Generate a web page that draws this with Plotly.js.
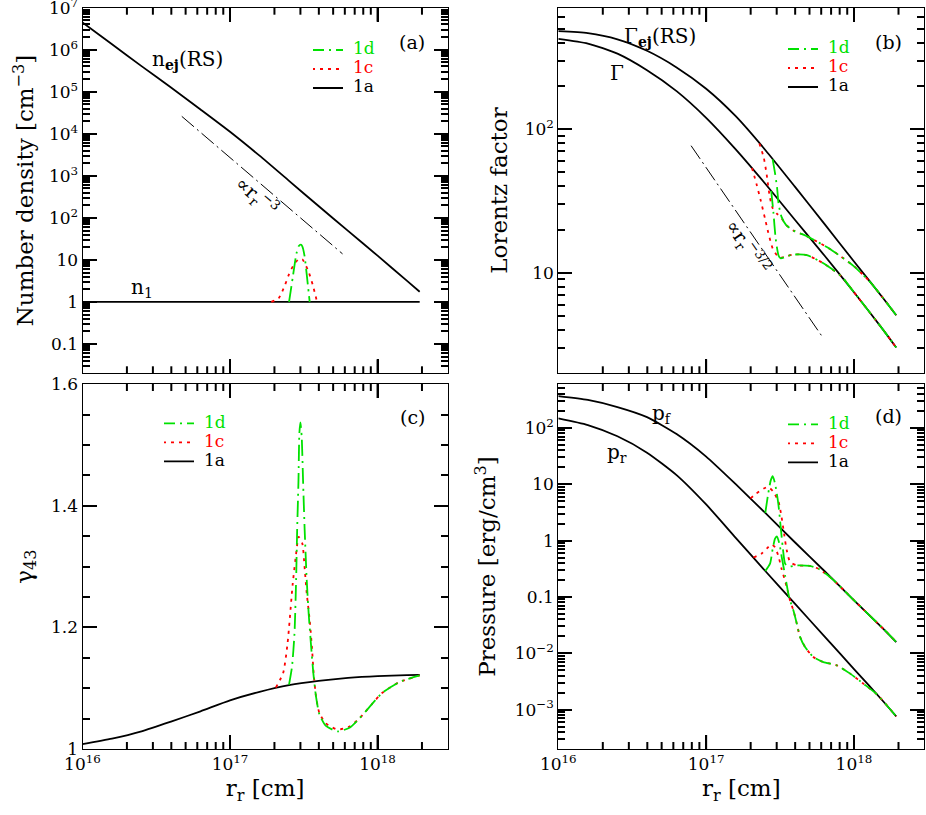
<!DOCTYPE html>
<html><head><meta charset="utf-8">
<script src="https://cdn.plot.ly/plotly-3.0.1.min.js"></script>
<style>html,body{margin:0;padding:0;background:#fff}</style>
</head><body><div id="chart" style="width:926px;height:815px"></div>
<script>
// ---------------- DATA ----------------
const rGrid = [1e16, 1.585e16, 2.512e16, 3.981e16, 6.310e16, 1e17, 1.585e17, 2.512e17, 3.981e17, 6.310e17, 1e18, 1.585e18, 1.93e18];
const nEjRS = [4.47e6, 1.35e6, 4.07e5, 1.26e5, 3.80e4, 1.12e4, 3020, 759, 191, 49.0, 12.6, 3.16, 1.74];
const rN1 = [1e16, 1.93e18];
const n1 = [1, 1];
const rN1c = [1.905e17, 2.138e17, 2.344e17, 2.512e17, 2.754e17, 2.951e17, 3.090e17, 3.388e17, 3.631e17, 3.890e17];
const nN1c = [1, 1.23, 2.40, 4.57, 8.5, 10.5, 10.3, 5.5, 2.6, 1];
const rN1d = [2.512e17, 2.661e17, 2.818e17, 2.917e17, 3.020e17, 3.090e17, 3.199e17, 3.311e17, 3.467e17];
const nN1d = [1, 3.8, 14.0, 21.0, 23.0, 21.0, 12.5, 4.5, 1];
const rSlopeA = [4.71e16, 5.79e17];
const nSlopeA = [2.6e4, 13.9];

const gammaEjRS = [481, 466, 422, 351, 269, 191, 123, 71.6, 39.8, 21.9, 12.0, 6.61, 5.07];
const gammaSh = [425, 394, 335, 257, 184, 120, 72.4, 41.7, 23.4, 13.2, 7.33, 3.98, 3.02];
const rSlopeB = [7.91e16, 6.21e17];
const gSlopeB = [76.7, 3.50];
const rGej1c = [2.291e17, 2.455e17, 2.570e17, 2.692e17, 2.818e17, 3.020e17, 3.236e17, 3.467e17, 3.890e17, 4.786e17, 6.918e17, 1e18, 1.288e18, 1.585e18, 1.93e18];
const gEj1c = [79.4, 63.1, 47.9, 33.9, 28.2, 25.7, 24.0, 21.6, 19.7, 18.0, 14.6, 11.1, 8.61, 6.61, 5.07];
const rGej1d = [2.818e17, 2.917e17, 3.020e17, 3.090e17, 3.236e17, 3.467e17, 3.890e17, 4.786e17, 6.918e17, 1e18, 1.288e18, 1.585e18, 1.93e18];
const gEj1d = [61.7, 50.1, 38.9, 30.2, 24.5, 21.6, 19.7, 18.0, 14.6, 11.1, 8.61, 6.61, 5.07];
const rG1c = [2.042e17, 2.188e17, 2.344e17, 2.512e17, 2.630e17, 2.818e17, 3.020e17, 3.162e17, 3.467e17, 3.890e17, 4.786e17, 6.166e17, 8.128e17, 1e18, 1.585e18, 1.93e18];
const g1c = [53.7, 41.7, 31.6, 23.4, 19.1, 14.8, 13.2, 12.7, 13.0, 13.4, 13.3, 11.7, 9.55, 7.33, 3.98, 3.02];
const rG1d = [2.754e17, 2.851e17, 2.951e17, 3.090e17, 3.199e17, 3.467e17, 3.890e17, 4.786e17, 6.166e17, 8.128e17, 1e18, 1.585e18, 1.93e18];
const g1d = [37.2, 26.3, 17.4, 13.2, 12.6, 13.0, 13.4, 13.3, 11.7, 9.55, 7.33, 3.98, 3.02];

const gamma43 = [1.008, 1.017, 1.029, 1.045, 1.062, 1.080, 1.094, 1.105, 1.112, 1.117, 1.120, 1.1215, 1.122];
const rGam1c = [2.042e17, 2.291e17, 2.455e17, 2.661e17, 2.818e17, 2.917e17, 3.090e17, 3.199e17, 3.311e17, 3.467e17, 3.589e17, 3.690e17, 3.828e17, 4.036e17, 4.467e17, 5.370e17, 6.457e17, 7.516e17, 8.318e17, 9.247e17, 1.072e18, 1.403e18, 1.93e18];
const gam1c = [1.101, 1.125, 1.174, 1.272, 1.325, 1.349, 1.338, 1.30, 1.256, 1.212, 1.168, 1.124, 1.086, 1.059, 1.042, 1.032, 1.037, 1.050, 1.062, 1.075, 1.092, 1.110, 1.121];
const rGam1d = [2.512e17, 2.630e17, 2.735e17, 2.805e17, 2.851e17, 2.911e17, 2.951e17, 2.999e17, 3.062e17, 3.126e17, 3.206e17, 3.311e17, 3.412e17, 3.548e17, 3.673e17, 3.828e17, 4.036e17, 4.467e17, 5.370e17, 6.457e17, 7.516e17, 8.318e17, 9.247e17, 1.072e18, 1.403e18, 1.93e18];
const gam1d = [1.106, 1.135, 1.19, 1.278, 1.36, 1.442, 1.519, 1.537, 1.513, 1.442, 1.36, 1.278, 1.223, 1.168, 1.124, 1.086, 1.057, 1.038, 1.029, 1.035, 1.050, 1.062, 1.075, 1.092, 1.110, 1.121];

const pF = [366, 313, 234, 155, 77.6, 30.9, 10.0, 3.09, 0.933, 0.288, 0.0871, 0.0269, 0.0158];
const pR = [147, 112, 70.8, 36.3, 14.5, 4.37, 1.12, 0.288, 0.0759, 0.0200, 0.00525, 0.00138, 0.000759];
const rPf1c = [1.995e17, 2.188e17, 2.455e17, 2.630e17, 2.851e17, 3.090e17, 3.236e17, 3.365e17, 3.508e17, 3.698e17, 4.102e17, 5.012e17, 5.754e17, 6.457e17, 7.244e17, 8.913e17, 1e18, 1.585e18, 1.93e18];
const pf1c = [5.6, 6.84, 8.39, 8.95, 7.29, 4.85, 2.63, 1.33, 0.673, 0.417, 0.363, 0.355, 0.316, 0.257, 0.200, 0.1175, 0.0871, 0.0269, 0.0158];
const rPf1d = [2.512e17, 2.630e17, 2.735e17, 2.818e17, 2.924e17, 3.076e17, 3.192e17, 3.296e17, 3.420e17, 3.597e17, 4.102e17, 5.012e17, 5.754e17, 6.457e17, 7.244e17, 8.913e17, 1e18, 1.585e18, 1.93e18];
const pf1d = [3.09, 6.84, 11.7, 13.9, 10.3, 4.54, 1.75, 0.769, 0.389, 0.347, 0.363, 0.355, 0.316, 0.257, 0.200, 0.1175, 0.0871, 0.0269, 0.0158];
const rPr1c = [2.089e17, 2.377e17, 2.570e17, 2.780e17, 2.924e17, 3.076e17, 3.236e17, 3.508e17, 3.690e17, 3.890e17, 4.102e17, 4.315e17, 4.667e17, 5.309e17, 6.209e17, 7.656e17, 9.419e17, 1.159e18, 1.426e18, 1.93e18];
const pr1c = [0.501, 0.589, 0.724, 0.851, 0.759, 0.537, 0.316, 0.150, 0.0871, 0.0578, 0.0336, 0.0195, 0.0129, 0.00857, 0.00698, 0.00610, 0.00435, 0.00288, 0.001875, 0.000759];
const rPr1d = [2.512e17, 2.704e17, 2.818e17, 2.924e17, 3.006e17, 3.126e17, 3.243e17, 3.420e17, 3.597e17, 3.690e17, 3.890e17, 4.102e17, 4.315e17, 4.667e17, 5.309e17, 6.209e17, 7.656e17, 9.419e17, 1.159e18, 1.426e18, 1.93e18];
const pr1d = [0.288, 0.389, 0.708, 1.084, 1.191, 0.891, 0.513, 0.240, 0.115, 0.0871, 0.0578, 0.0336, 0.0195, 0.0129, 0.00857, 0.00698, 0.00610, 0.00435, 0.00288, 0.001875, 0.000759];

const xTickVals = [1e16, 1e17, 1e18];
const xTickText = ['10<sup>16</sup>', '10<sup>17</sup>', '10<sup>18</sup>'];
const aTickVals = [0.1, 1, 10, 100, 1e3, 1e4, 1e5, 1e6, 1e7];
const aTickText = ['0.1', '1', '10', '10<sup>2</sup>', '10<sup>3</sup>', '10<sup>4</sup>', '10<sup>5</sup>', '10<sup>6</sup>', '10<sup>7</sup>'];
const bTickVals = [10, 100];
const bTickText = ['10', '10<sup>2</sup>'];
const cTickVals = [1, 1.2, 1.4, 1.6];
const cTickText = ['1', '1.2', '1.4', '1.6'];
const cMinorVals = [1.05, 1.1, 1.15, 1.25, 1.3, 1.35, 1.45, 1.5, 1.55];
const dTickVals = [1e-3, 1e-2, 0.1, 1, 10, 100];
const dTickText = ['10<sup>\u22123</sup>', '10<sup>\u22122</sup>', '0.1', '1', '10', '10<sup>2</sup>'];

// ---------------- STYLE / LAYOUT ----------------
const FONT = 'DejaVu Serif, Liberation Serif, serif';
const GREEN = 'rgb(0,225,0)', RED = 'rgb(255,0,0)', BLACK = '#000';
const DASH_1D = '16px,5px,2px,5px', DASH_1C = '3px,5px', DASH_REF = '16px,4px,2px,4px';
const ML = 80, MT = 7, MB = 66, MR = 1, W = 926, H = 815;
const PW = W - ML - MR, PH = H - MT - MB;
const fx = px => (px - ML) / PW;
const fy = py => (H - MB - py) / PH;
const MAJOR_LEN = 14, MINOR_LEN = 7, TICK_W = 2;

function minorLog(lo, hi) {
  const out = [];
  for (let k = -5; k <= 19; k++) for (let m = 2; m <= 9; m++) {
    const v = m * Math.pow(10, k);
    if (v >= lo * 0.999 && v <= hi * 1.001) out.push(v);
  }
  return out;
}

const legendNames = {
  '1d': '<span style="color:' + GREEN + ';font-size:17px">1d</span>',
  '1c': '<span style="color:' + RED + ';font-size:17px">1c</span>',
  '1a': '<span style="color:#000;font-size:17px">1a</span>'
};

function line(x, y, xa, ya, color, dash, width, opts) {
  return Object.assign({
    type: 'scatter', mode: 'lines', x, y, xaxis: xa, yaxis: ya,
    line: {color, dash, width, shape: 'spline', smoothing: 0.6},
    showlegend: false, hoverinfo: 'skip'
  }, opts || {});
}

const panels = [
  {xa: 'x', ya: 'y', lg: 'legend'},
  {xa: 'x2', ya: 'y2', lg: 'legend2'},
  {xa: 'x3', ya: 'y3', lg: 'legend3'},
  {xa: 'x4', ya: 'y4', lg: 'legend4'}
];
function leg(p, name, rank) {
  return {showlegend: true, legend: p.lg, name: legendNames[name], legendrank: rank};
}

const traces = [];
let P = panels[0];
traces.push(line(rSlopeA, nSlopeA, P.xa, P.ya, BLACK, DASH_REF, 1, {line: {color: BLACK, dash: DASH_REF, width: 1}}));
traces.push(line(rGrid, nEjRS, P.xa, P.ya, BLACK, 'solid', 1.8, leg(P, '1a', 3)));
traces.push(line(rN1, n1, P.xa, P.ya, BLACK, 'solid', 1.8));
traces.push(line(rN1c, nN1c, P.xa, P.ya, RED, DASH_1C, 1.8, leg(P, '1c', 2)));
traces.push(line(rN1d, nN1d, P.xa, P.ya, GREEN, DASH_1D, 1.8, leg(P, '1d', 1)));
P = panels[1];
traces.push(line(rSlopeB, gSlopeB, P.xa, P.ya, BLACK, DASH_REF, 1, {line: {color: BLACK, dash: DASH_REF, width: 1}}));
traces.push(line(rGrid, gammaEjRS, P.xa, P.ya, BLACK, 'solid', 1.8, leg(P, '1a', 3)));
traces.push(line(rGrid, gammaSh, P.xa, P.ya, BLACK, 'solid', 1.8));
traces.push(line(rGej1c, gEj1c, P.xa, P.ya, RED, DASH_1C, 1.8, leg(P, '1c', 2)));
traces.push(line(rG1c, g1c, P.xa, P.ya, RED, DASH_1C, 1.8));
traces.push(line(rGej1d, gEj1d, P.xa, P.ya, GREEN, DASH_1D, 1.8, leg(P, '1d', 1)));
traces.push(line(rG1d, g1d, P.xa, P.ya, GREEN, DASH_1D, 1.8));
P = panels[2];
traces.push(line(rGrid, gamma43, P.xa, P.ya, BLACK, 'solid', 1.8, leg(P, '1a', 3)));
traces.push(line(rGam1c, gam1c, P.xa, P.ya, RED, DASH_1C, 1.8, leg(P, '1c', 2)));
traces.push(line(rGam1d, gam1d, P.xa, P.ya, GREEN, DASH_1D, 1.8, leg(P, '1d', 1)));
P = panels[3];
traces.push(line(rGrid, pF, P.xa, P.ya, BLACK, 'solid', 1.8, leg(P, '1a', 3)));
traces.push(line(rGrid, pR, P.xa, P.ya, BLACK, 'solid', 1.8));
traces.push(line(rPf1c, pf1c, P.xa, P.ya, RED, DASH_1C, 1.8, leg(P, '1c', 2)));
traces.push(line(rPr1c, pr1c, P.xa, P.ya, RED, DASH_1C, 1.8));
traces.push(line(rPf1d, pf1d, P.xa, P.ya, GREEN, DASH_1D, 1.8, leg(P, '1d', 1)));
traces.push(line(rPr1d, pr1d, P.xa, P.ya, GREEN, DASH_1D, 1.8));

// empty carrier traces so the minor-tick y overlay axes are drawn
for (let i = 0; i < 4; i++) {
  traces.push({type: 'scatter', mode: 'lines', x: [], y: [], xaxis: panels[i].xa, yaxis: 'y' + (i + 5), showlegend: false, hoverinfo: 'skip'});
}

const X_RANGE = [16, 18.4755];
const colA = [fx(82.5), fx(447.7)], colB = [fx(558.3), fx(924.3)];
const rowTop = [fy(373.3), fy(7.7)], rowBot = [fy(749), fy(384)];

function baseAxis(extra) {
  return Object.assign({
    showline: true, linecolor: BLACK, linewidth: 1, mirror: 'ticks',
    ticks: 'inside', ticklen: MAJOR_LEN, tickwidth: TICK_W, tickcolor: BLACK, layer: 'above traces',
    showgrid: false, zeroline: false, tickmode: 'array', ticklabeloverflow: 'allow',
    tickfont: {family: FONT, size: 17, color: BLACK}
  }, extra);
}
function minorAxis(extra) {
  return Object.assign({
    showline: false, mirror: 'ticks', ticks: 'inside', ticklen: MINOR_LEN, tickwidth: TICK_W, tickcolor: BLACK, layer: 'above traces',
    showgrid: false, zeroline: false, tickmode: 'array', showticklabels: false
  }, extra);
}
const xMinor = minorLog(1e16, 3e18);
const TITLE_SIZE = 23;
function xAxis(domain, anchor, labels) {
  const a = baseAxis({type: 'log', range: X_RANGE, domain, anchor, tickvals: xTickVals, ticktext: xTickText,
    showticklabels: labels});
  if (labels) a.title = {text: 'r<sub>r</sub> [cm]', font: {family: FONT, size: TITLE_SIZE, color: BLACK}, standoff: 6};
  return a;
}
function yTitle(t, standoff) { return {text: t, font: {family: FONT, size: TITLE_SIZE, color: BLACK}, standoff}; }

// x-axis tick marks (bottom and mirrored top), thin filled bars placed from the shared x range
function xTickMarks(dom, row) {
  const out = [];
  const span = X_RANGE[1] - X_RANGE[0];
  const hw = (TICK_W / 2) / PW;
  const add = (v, len) => {
    const lv = Math.log10(v);
    if (lv <= X_RANGE[0] + 1e-6 || lv >= X_RANGE[1] - 1e-6) return;
    const xp = dom[0] + (lv - X_RANGE[0]) / span * (dom[1] - dom[0]);
    const base = {type: 'rect', xref: 'paper', yref: 'paper', x0: xp - hw, x1: xp + hw,
      fillcolor: BLACK, line: {width: 0}, layer: 'above'};
    out.push(Object.assign({}, base, {y0: row[0], y1: row[0] + len / PH}));
    out.push(Object.assign({}, base, {y0: row[1] - len / PH, y1: row[1]}));
  };
  xTickVals.forEach(v => add(v, MAJOR_LEN));
  xMinor.forEach(v => add(v, MINOR_LEN));
  return out;
}

const yRangeA = [Math.log10(0.02), 7.0005];
const yRangeB = [Math.log10(2), Math.log10(700)];
const yRangeC = [1, 1.6003];
const yRangeD = [Math.log10(2e-4), Math.log10(600)];

const ann = (px, py, text, size, angle) => ({xref: 'paper', yref: 'paper', x: fx(px), y: fy(py), text, showarrow: false,
  font: {family: FONT, size, color: BLACK}, textangle: angle || 0, xanchor: 'center', yanchor: 'middle'});

const legendBase = (px, py) => ({x: fx(px), y: fy(py), xanchor: 'left', yanchor: 'top', bgcolor: 'rgba(0,0,0,0)',
  borderwidth: 0, font: {family: FONT, size: 11, color: BLACK}, tracegroupgap: 0, traceorder: 'normal'});

const layout = {
  width: W, height: H, margin: {l: ML, r: MR, t: MT, b: MB}, paper_bgcolor: '#fff', plot_bgcolor: 'rgba(0,0,0,0)',
  font: {family: FONT, color: BLACK},
  xaxis: xAxis(colA, 'y', false),
  xaxis2: xAxis(colB, 'y2', false),
  xaxis3: xAxis(colA, 'y3', true),
  xaxis4: xAxis(colB, 'y4', true),
  yaxis: baseAxis({type: 'log', range: yRangeA, domain: rowTop, anchor: 'x', tickvals: aTickVals, ticktext: aTickText,
    title: yTitle('Number density [cm<sup>\u22123</sup>]', 8)}),
  yaxis2: baseAxis({type: 'log', range: yRangeB, domain: rowTop, anchor: 'x2', tickvals: bTickVals, ticktext: bTickText,
    title: yTitle('Lorentz factor', 10)}),
  yaxis3: baseAxis({type: 'linear', range: yRangeC, domain: rowBot, anchor: 'x3', tickvals: cTickVals, ticktext: cTickText,
    title: yTitle('\u03b3<sub>43</sub>', 12)}),
  yaxis4: baseAxis({type: 'log', range: yRangeD, domain: rowBot, anchor: 'x4', tickvals: dTickVals, ticktext: dTickText,
    title: yTitle('Pressure [erg/cm<sup>3</sup>]', 12)}),
  yaxis5: minorAxis({type: 'log', range: yRangeA, overlaying: 'y', anchor: 'x', tickvals: minorLog(0.02, 1e7)}),
  yaxis6: minorAxis({type: 'log', range: yRangeB, overlaying: 'y2', anchor: 'x2', tickvals: minorLog(2, 700)}),
  yaxis7: minorAxis({type: 'linear', range: yRangeC, overlaying: 'y3', anchor: 'x3', tickvals: cMinorVals}),
  yaxis8: minorAxis({type: 'log', range: yRangeD, overlaying: 'y4', anchor: 'x4', tickvals: minorLog(2e-4, 600)}),
  legend: legendBase(313, 35.5),
  legend2: legendBase(788, 34.5),
  legend3: legendBase(164, 408.8),
  legend4: legendBase(788, 409.8),
  shapes: [].concat(xTickMarks(colA, rowTop), xTickMarks(colB, rowTop), xTickMarks(colA, rowBot), xTickMarks(colB, rowBot)),
  annotations: [
    ann(412, 42, '(a)', 19), ann(888, 42, '(b)', 19), ann(412, 417, '(c)', 19), ann(888, 416, '(d)', 19),
    ann(187, 60, 'n<sub><b>ej</b></sub>(RS)', 20),
    ann(142, 288, 'n<sub>1</sub>', 20),
    ann(257, 196, '\u221dr<sub>r</sub><sup>\u22123</sup>', 19, 41),
    ann(660, 37, '\u0393<sub><b>ej</b></sub>(RS)', 20),
    ann(617, 73, '\u0393', 20),
    ann(747, 247, '\u221dr<sub>r</sub><sup>\u22123/2</sup>', 19, 55),
    ann(662, 414, 'p<sub>f</sub>', 20),
    ann(617, 453, 'p<sub>r</sub>', 20)
  ]
};

Plotly.newPlot('chart', traces, layout, {staticPlot: true, displayModeBar: false}).then(gd => {
  gd.querySelectorAll('.legendlines path').forEach(p => p.setAttribute('d', 'M-33,0h63'));
});
</script></body></html>
